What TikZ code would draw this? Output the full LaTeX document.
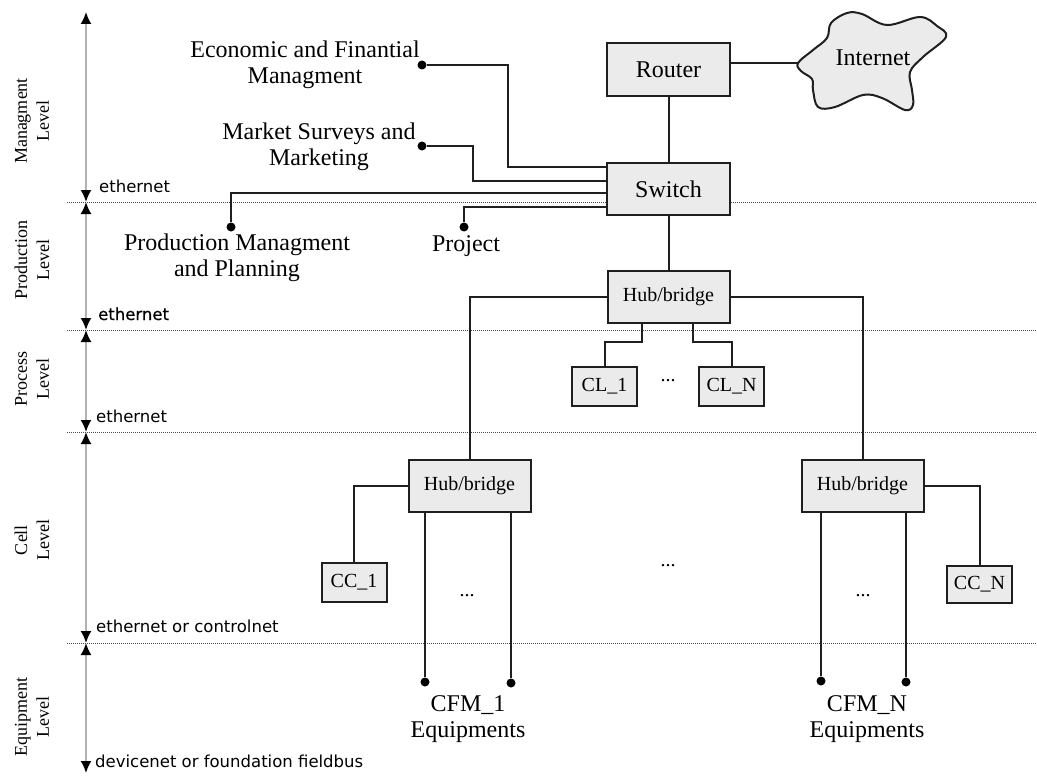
\documentclass[tikz,border=0pt]{standalone}
\usepackage{fontspec}
\setmainfont{Liberation Serif}
\newfontfamily\labfont{DejaVu Sans}
\newfontfamily\labfontb{DejaVu Sans}[FakeBold=0.6]
\usetikzlibrary{arrows.meta}
\begin{document}
\begin{tikzpicture}[x=1pt,y=-1pt,
  box/.style={draw=black!88, fill=black!8, line width=2pt, minimum width=123pt, minimum height=53pt, inner sep=0pt, font=\fontsize{24}{26}\selectfont},
  hubbox/.style={box, minimum width=122pt, minimum height=52pt, font=\fontsize{20}{22}\selectfont},
  smallbox/.style={box, minimum width=65pt, minimum height=39pt, font=\fontsize{20}{22}\selectfont},
  conn/.style={draw=black!88, line width=2pt},
  junction/.style={circle, fill=black, inner sep=0pt, minimum size=9pt},
  bigtext/.style={align=center, font=\fontsize{24}{26}\selectfont, inner sep=0pt},
  netlabel/.style={anchor=base west, font=\labfont\fontsize{16.5}{18}\selectfont, inner sep=0pt},
  levellabel/.style={rotate=90, align=center, font=\fontsize{18}{22}\selectfont, inner sep=0pt},
  sep/.style={draw=black!70, line width=1pt, dash pattern=on 1pt off 1pt},
  axis/.style={draw=black!30, line width=1.8pt, {Latex[length=12pt,width=11pt,color=black]}-{Latex[length=12pt,width=11pt,color=black]}},
  ellip/.style={font=\fontsize{20}{22}\selectfont, inner sep=0pt, anchor=base},
]
\useasboundingbox (0,0) rectangle (1037,776);

% axis
\coordinate (a0) at (86,12);
\coordinate (a1) at (86,202);
\coordinate (a2) at (86,330);
\coordinate (a3) at (86,432);
\coordinate (a4) at (86,643);
\coordinate (a5) at (86,773);
\draw[sep] (67,202) -- (1037,202);
\draw[sep] (67,330) -- (1037,330);
\draw[sep] (67,432) -- (1037,432);
\draw[sep] (67,643) -- (1037,643);
\draw[axis] (a0) -- (a1);
\draw[axis] (a1) -- (a2);
\draw[axis] (a2) -- (a3);
\draw[axis] (a3) -- (a4);
\draw[axis] (a4) -- (a5);

\node[netlabel] (n1) at (99,192) {ethernet};
\node[netlabel, font=\labfontb\fontsize{16.5}{18}\selectfont] (n2) at (98,320) {ethernet};
\node[netlabel] (n3) at (96,422) {ethernet};
\node[netlabel] (n4) at (96,632) {ethernet or controlnet};
\node[netlabel] (n5) at (95,767) {devicenet or foundation fieldbus};

\node[levellabel] (lv1) at (32,121) {Managment\\Level};
\node[levellabel] (lv2) at (32,260) {Production\\Level};
\node[levellabel] (lv3) at (32,379) {Process\\Level};
\node[levellabel] (lv4) at (32,540) {Cell\\Level};
\node[levellabel] (lv5) at (32,717) {Equipment\\Level};

% boxes
\node[box] (router) at (668.5,69.5) {Router};
\node[box, minimum height=52pt] (switch) at (668.5,189) {Switch};
\node[hubbox] (hub1) at (668.5,297) {Hub/bridge};
\node[hubbox] (hub2) at (469.5,485.5) {Hub/bridge};
\node[hubbox] (hub3) at (862.5,485.5) {Hub/bridge};
\node[smallbox] (cl1) at (604.5,386.5) {CL\_1};
\node[smallbox] (cln) at (731.5,386.5) {CL\_N};
\node[smallbox] (cc1) at (354,582.5) {CC\_1};
\node[smallbox, minimum height=37pt] (ccn) at (979.5,584.5) {CC\_N};

% cloud
\draw[draw=black!88, fill=black!8, line width=2pt] plot[smooth cycle, tension=0.6] coordinates {
  (798,63) (813,50) (827,38) (831,23) (847,13) (862,14) (887,25) (920,17) (937,26) (946,37)
  (923,57) (910,72) (912,90) (913,105) (905,110) (882,98) (863,95) (835,107) (818,107) (813,90) (812,79) (801,71)};
\node[bigtext] (inet) at (873,58) {Internet};
\coordinate (cl) at (798,63);
\draw[conn] (router.east |- cl) -- (cl);

\draw[conn] (router) -- (switch);
\draw[conn] (switch) -- (hub1);

% departments
\node[bigtext] (econ) at (305,65) {Economic and Finantial\\Managment};
\node[bigtext] (mkt) at (319,147) {Market Surveys and\\Marketing};
\node[bigtext] (prod) at (237,258) {Production Managment\\and Planning};
\node[bigtext, anchor=base] (proj) at (466,251) {Project};
\node[junction] (dE) at (422,65) {};
\node[junction] (dM) at (422,146) {};
\node[junction] (dP) at (231,227) {};
\node[junction] (dJ) at (464,227) {};
\draw[conn] (dE) -| (508,167) -- (switch.west |- 0,167);
\draw[conn] (dM) -| (473,181) -- (switch.west |- 0,181);
\draw[conn] (dP) |- (switch.west |- 0,193);
\draw[conn] (dJ) |- (switch.west |- 0,207);

% hub1 links
\draw[conn] (hub1.west) -| (hub2.north);
\draw[conn] (hub1.east) -| (hub3.north);
\draw[conn] (hub1.south -| 642,0) -- (642,342) -| (cl1.north);
\draw[conn] (hub1.south -| 693,0) -- (693,342) -| (cln.north);
\node[ellip] (e1) at (668,381) {...};

% hub2 / hub3 links
\draw[conn] (hub2.west) -| (cc1.north);
\draw[conn] (hub3.east) -| (ccn.north);
\node[junction] (d21) at (425,682) {};
\node[junction] (d22) at (511,683) {};
\node[junction] (d31) at (821,681) {};
\node[junction] (d32) at (906,682) {};
\draw[conn] (hub2.south -| d21) -- (d21);
\draw[conn] (hub2.south -| d22) -- (d22);
\draw[conn] (hub3.south -| d31) -- (d31);
\draw[conn] (hub3.south -| d32) -- (d32);
\node[ellip] (e2) at (467,596) {...};
\node[ellip] (e3) at (863,596) {...};
\node[ellip] (e4) at (668,566) {...};

\node[bigtext] (cfm1) at (468,719) {CFM\_1\\Equipments};
\node[bigtext] (cfmn) at (867,719) {CFM\_N\\Equipments};
\end{tikzpicture}
\end{document}
